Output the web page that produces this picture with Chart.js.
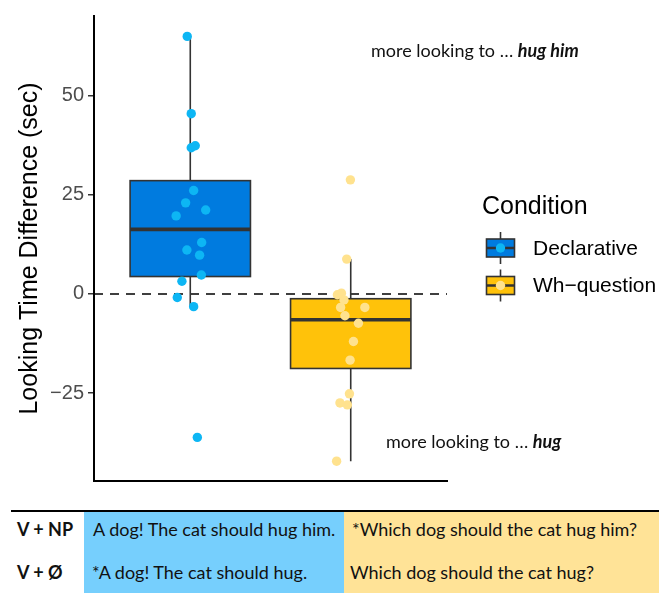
<!DOCTYPE html>
<html>
<head>
<meta charset="utf-8">
<script src="https://cdn.jsdelivr.net/npm/chart.js@4/dist/chart.umd.min.js"></script>
<style>
  html, body { margin:0; padding:0; background:#fff; }
  #wrap { position:relative; width:659px; height:593px; overflow:hidden; font-family:Lato, "Open Sans", sans-serif; }
  #c { position:absolute; left:0; top:0; }
  .rule { position:absolute; left:11px; top:510px; width:648px; height:2px; background:#000; }
  .cell { position:absolute; top:512px; height:81px; }
  .txt { position:absolute; font-size:18px; line-height:18px; color:#111; white-space:nowrap; }
  .lab { font-weight:bold; }
</style>
</head>
<body>
<div id="wrap">
  <canvas id="c" width="659" height="505"></canvas>
  <div class="rule"></div>
  <div class="cell" style="left:84px;width:260px;background:#76CFFD;"></div>
  <div class="cell" style="left:344px;width:315px;background:#FFE397;"></div>
  <div id="table"></div>
</div>
<script>
// ---------- data ----------
const categories = ['Declarative', 'Wh\u2212question'];
const yTicks = [-25, 0, 25, 50];

// jitter offsets (category units) and values of individual points
const declJitter = [-0.019, 0.006, 0.006, 0.031, 0.021, -0.029, 0.096, -0.088, 0.071, -0.021, 0.058, 0.069, -0.052, -0.081, 0.021, 0.044];
const declValues = [65.0, 45.5, 36.9, 37.4, 26.1, 23.0, 21.2, 19.7, 13.0, 11.1, 9.8, 4.8, 3.2, -0.9, -3.2, -36.2];
const whJitter = [-0.002, -0.025, -0.083, -0.058, -0.042, -0.063, 0.088, -0.036, 0.048, 0.017, -0.004, -0.008, -0.067, -0.021, -0.088];
const whValues = [28.8, 8.8, -0.2, 0.2, -1.5, -3.4, -3.4, -5.5, -7.4, -12.0, -16.7, -25.2, -27.5, -28.0, -42.2];

// box statistics per category
const boxQ1 = [4.4, -18.8];
const boxMedian = [16.3, -6.5];
const boxQ3 = [28.6, -1.2];
const whiskerLow = [-3.2, -42.2];
const whiskerHigh = [65.0, 8.8];

// table rows
const rowLabels = ['V + NP', 'V + \u00D8'];
const declSentences = ['A dog! The cat should hug him.', '*A dog! The cat should hug.'];
const whSentences = ['*Which dog should the cat hug him?', 'Which dog should the cat hug?'];

// ---------- styles ----------
const boxFill = ['#007BDF', '#FFC20A'];
const pointFill = ['#0DB6F4', '#FFE28E'];
const lineCol = '#333333';
const boxWidth = 0.75;

// ---------- table ----------
(function(){
  const t = document.getElementById('table');
  const rowsTop = [520, 563];
  rowsTop.forEach((top, i) => {
    const a = document.createElement('div'); a.className='txt lab'; a.style.left='17px'; a.style.top=top+'px'; a.textContent=rowLabels[i]; t.appendChild(a);
    const b = document.createElement('div'); b.className='txt'; b.style.left=(i===0?93:92)+'px'; b.style.top=top+'px'; b.textContent=declSentences[i]; t.appendChild(b);
    const c = document.createElement('div'); c.className='txt'; c.style.left=(i===0?352:350)+'px'; c.style.top=top+'px'; c.textContent=whSentences[i]; t.appendChild(c);
  });
})();

// ---------- plugins ----------
const boxPlugin = {
  id: 'boxes',
  beforeDatasetsDraw(chart) {
    const {ctx, chartArea} = chart;
    const xs = chart.scales.x, ys = chart.scales.y;
    ctx.save();
    // zero reference line
    ctx.strokeStyle = '#000'; ctx.lineWidth = 1.6; ctx.setLineDash([9, 7]);
    const y0 = ys.getPixelForValue(0);
    ctx.beginPath(); ctx.moveTo(chartArea.left, y0); ctx.lineTo(chartArea.right, y0); ctx.stroke();
    ctx.setLineDash([]);
    categories.forEach((cat, i) => {
      const cx = xs.getPixelForValue(i + 1);
      const xl = xs.getPixelForValue(i + 1 - boxWidth / 2);
      const xr = xs.getPixelForValue(i + 1 + boxWidth / 2);
      const yq1 = ys.getPixelForValue(boxQ1[i]);
      const yq3 = ys.getPixelForValue(boxQ3[i]);
      const ym = ys.getPixelForValue(boxMedian[i]);
      const ylo = ys.getPixelForValue(whiskerLow[i]);
      const yhi = ys.getPixelForValue(whiskerHigh[i]);
      ctx.strokeStyle = lineCol; ctx.lineWidth = 1.6;
      ctx.beginPath(); ctx.moveTo(cx, yhi); ctx.lineTo(cx, yq3); ctx.moveTo(cx, yq1); ctx.lineTo(cx, ylo); ctx.stroke();
      ctx.fillStyle = boxFill[i];
      ctx.fillRect(xl, yq3, xr - xl, yq1 - yq3);
      ctx.strokeRect(xl, yq3, xr - xl, yq1 - yq3);
      ctx.lineWidth = 3.6;
      ctx.beginPath(); ctx.moveTo(xl, ym); ctx.lineTo(xr, ym); ctx.stroke();
    });
    ctx.restore();
  },
  afterDraw(chart) {
    const {ctx} = chart;
    ctx.save();
    // annotations
    const drawNote = (x, y, plain, bold) => {
      ctx.textBaseline = 'alphabetic'; ctx.textAlign = 'left'; ctx.fillStyle = '#111';
      ctx.font = '18px Lato';
      ctx.fillText(plain, x, y);
      const w = ctx.measureText(plain).width;
      ctx.font = 'italic bold 18px Lato';
      ctx.fillText(bold, x + w, y);
    };
    drawNote(371, 57, 'more looking to \u2026 ', 'hug him');
    drawNote(386, 448, 'more looking to \u2026 ', 'hug');

    // legend
    ctx.fillStyle = '#000';
    ctx.font = '25px "Liberation Sans", Arial, sans-serif';
    ctx.textBaseline = 'alphabetic';
    ctx.fillText('Condition', 482, 214);
    const keyCenters = [248, 285.5];
    categories.forEach((cat, i) => {
      const cy = keyCenters[i];
      const cx = 500.5;
      ctx.strokeStyle = lineCol; ctx.lineWidth = 1.6;
      ctx.beginPath(); ctx.moveTo(cx, cy - 16); ctx.lineTo(cx, cy + 16); ctx.stroke();
      ctx.fillStyle = boxFill[i];
      ctx.fillRect(486.5, cy - 9, 28, 18);
      ctx.strokeRect(486.5, cy - 9, 28, 18);
      ctx.lineWidth = 2.5;
      ctx.beginPath(); ctx.moveTo(486.5, cy); ctx.lineTo(514.5, cy); ctx.stroke();
      ctx.fillStyle = pointFill[i];
      ctx.beginPath(); ctx.arc(cx, cy, 4.7, 0, Math.PI * 2); ctx.fill();
      ctx.fillStyle = '#000';
      ctx.font = '21px "Liberation Sans", Arial, sans-serif';
      ctx.textBaseline = 'middle';
      ctx.fillText(cat, 533, cy + 1);
    });
    ctx.restore();
  }
};

// ---------- chart ----------
const toPts = (jit, vals, k) => vals.map((v, i) => ({x: k + jit[i], y: v}));

new Chart(document.getElementById('c'), {
  type: 'scatter',
  data: {
    datasets: [
      {label: categories[0], data: toPts(declJitter, declValues, 1), backgroundColor: pointFill[0], borderWidth: 0, pointRadius: 4.7, pointHoverRadius: 4.7},
      {label: categories[1], data: toPts(whJitter, whValues, 2), backgroundColor: pointFill[1], borderWidth: 0, pointRadius: 4.7, pointHoverRadius: 4.7}
    ]
  },
  options: {
    responsive: false,
    animation: false,
    events: [],
    layout: {padding: {left: 0, top: 15, right: 212, bottom: 0}},
    plugins: {legend: {display: false}, tooltip: {enabled: false}},
    scales: {
      x: {
        type: 'linear', min: 0.4, max: 2.6,
        ticks: {display: false},
        grid: {display: true, drawOnChartArea: false, drawTicks: false},
        border: {display: true, color: '#000', width: 2},
        afterFit: s => { s.height = 24; }
      },
      y: {
        type: 'linear', min: -47.2, max: 70.15,
        afterBuildTicks: s => { s.ticks = yTicks.map(v => ({value: v})); },
        ticks: {
          color: '#4D4D4D', padding: 4,
          font: {family: '"Liberation Sans", Arial, sans-serif', size: 20},
          callback: v => String(v).replace('-', '\u2212')
        },
        grid: {display: true, drawOnChartArea: false, drawTicks: true, tickLength: 6, color: '#333', lineWidth: 1.5},
        border: {display: true, color: '#000', width: 2},
        title: {
          display: true, text: 'Looking Time Difference (sec)', color: '#000',
          font: {family: '"Liberation Sans", Arial, sans-serif', size: 25},
          padding: {top: 15, bottom: 0}
        },
        afterFit: s => { s.width = 94; }
      }
    }
  },
  plugins: [boxPlugin]
});
</script>
</body>
</html>
